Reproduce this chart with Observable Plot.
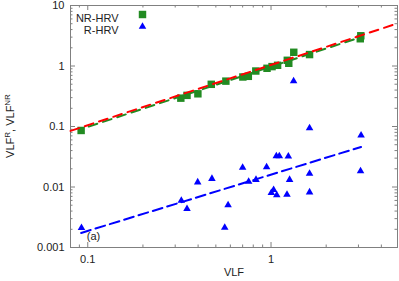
<!DOCTYPE html>
<html><head><meta charset="utf-8">
<script src="https://cdn.jsdelivr.net/npm/d3@7"></script>
<script src="https://cdn.jsdelivr.net/npm/@observablehq/plot@0.6"></script>
<style>body{margin:0;background:#fff}</style>
</head><body><div id="chart"></div>
<script>
// NR-HRV (green squares)
const nrX = [0.092, 0.322, 0.348, 0.399, 0.472, 0.567, 0.702, 0.752, 0.826, 0.951, 1.013, 1.086, 1.227, 1.250, 1.331, 1.623, 3.09, 3.07];
const nrY = [0.086, 0.294, 0.327, 0.347, 0.498, 0.562, 0.658, 0.675, 0.826, 0.916, 0.977, 1.027, 1.242, 1.108, 1.686, 1.545, 3.16, 2.82];
// R-HRV (blue triangles)
const rX = [0.0924, 0.324, 0.348, 0.398, 0.476, 0.583, 0.559, 0.700, 0.755, 0.828, 0.946, 1.069, 1.110, 1.243, 1.004, 1.033, 1.075, 1.222, 1.263, 1.623, 1.623, 3.08, 1.328, 1.623, 3.10];
const rY = [0.00211, 0.00598, 0.00436, 0.0120, 0.0137, 0.00504, 0.00213, 0.0210, 0.0123, 0.0132, 0.0213, 0.0324, 0.0324, 0.0320, 0.00802, 0.0090, 0.00738, 0.00751, 0.0132, 0.0166, 0.0082, 0.0183, 0.565, 0.0942, 0.0713];
// fit lines (end points)
const redFitX = [0.0805, 4.9], redFitY = [0.0846, 5.06];
const greenFitX = [0.092, 3.1], greenFitY = [0.0906, 3.009];
const blueFitX = [0.092, 3.1], blueFitY = [0.00174, 0.0459];
// ticks
const xTickValues = [0.1, 1], xTickLabels = ["0.1", "1"];
const yTickValues = [0.001, 0.01, 0.1, 1, 10], yTickLabels = ["0.001", "0.01", "0.1", "1", "10"];
const xMinor = [0.09, 0.2, 0.3, 0.4, 0.5, 0.6, 0.7, 0.8, 0.9, 2, 3, 4];
const yMinor = [0.002,0.003,0.004,0.005,0.006,0.007,0.008,0.009,
                0.02,0.03,0.04,0.05,0.06,0.07,0.08,0.09,
                0.2,0.3,0.4,0.5,0.6,0.7,0.8,0.9,
                2,3,4,5,6,7,8,9];
const seriesNames = ["NR-HRV", "R-HRV"];

const GREEN = "#228b22", BLUE = "#0000ff", RED = "#ff0000", AXIS = "#808080";
const W = 399, H = 281, mL = 70, mR = 2, mT = 5, mB = 34;
const iH = H - mT - mB, iW = W - mL - mR;

const nr = nrX.map((x, i) => ({x, y: nrY[i]}));
const rr = rX.map((x, i) => ({x, y: rY[i]}));
const line = (xs, ys) => xs.map((x, i) => ({x, y: ys[i]}));
const xLab = new Map(xTickValues.map((v, i) => [v, xTickLabels[i]]));
const yLab = new Map(yTickValues.map((v, i) => [v, yTickLabels[i]]));

const chart = Plot.plot({
  width: W, height: H,
  marginLeft: mL, marginRight: mR, marginTop: mT, marginBottom: mB,
  style: {fontFamily: "'Liberation Sans', Arial, sans-serif", fontSize: "11px", color: "#222", background: "#fff"},
  x: {type: "log", domain: [0.0805, 4.9]},
  y: {type: "log", domain: [0.001, 10]},
  marks: [
    Plot.axisX({ticks: xTickValues, tickFormat: d => xLab.get(d), tickSize: 0, tickPadding: 8, label: null}),
    Plot.axisY({ticks: yTickValues, tickFormat: d => yLab.get(d), tickSize: 0, tickPadding: 6, label: null}),
    // inward ticks on all four sides
    Plot.tickX(xTickValues, {x: d => d, insetTop: iH - 5, stroke: AXIS}),
    Plot.tickX(xTickValues, {x: d => d, insetBottom: iH - 5, stroke: AXIS}),
    Plot.tickX(xMinor, {x: d => d, insetTop: iH - 2.5, stroke: AXIS}),
    Plot.tickX(xMinor, {x: d => d, insetBottom: iH - 2.5, stroke: AXIS}),
    Plot.tickY(yTickValues, {y: d => d, insetRight: iW - 5, stroke: AXIS}),
    Plot.tickY(yTickValues, {y: d => d, insetLeft: iW - 5, stroke: AXIS}),
    Plot.tickY(yMinor, {y: d => d, insetRight: iW - 2.5, stroke: AXIS}),
    Plot.tickY(yMinor, {y: d => d, insetLeft: iW - 2.5, stroke: AXIS}),
    Plot.frame({stroke: AXIS}),
    // data
    Plot.dot(nr, {x: "x", y: "y", symbol: "square", r: 4.2, fill: GREEN, stroke: null}),
    Plot.dot(rr, {x: "x", y: "y", symbol: "triangle", r: 2.8, fill: BLUE, stroke: null}),
    Plot.line(line(greenFitX, greenFitY), {x: "x", y: "y", stroke: GREEN, strokeWidth: 2, strokeDasharray: "9,6", strokeDashoffset: 7}),
    Plot.line(line(redFitX, redFitY), {x: "x", y: "y", stroke: RED, strokeWidth: 2, strokeDasharray: "9,6"}),
    Plot.line(line(blueFitX, blueFitY), {x: "x", y: "y", stroke: BLUE, strokeWidth: 2, strokeDasharray: "10,5"}),
    // legend
    Plot.text([seriesNames[0]], {text: d => d, frameAnchor: "top-left", dx: 48, dy: 9, textAnchor: "end", fill: "#222"}),
    Plot.text([seriesNames[1]], {text: d => d, frameAnchor: "top-left", dx: 48, dy: 21, textAnchor: "end", fill: "#222"}),
    Plot.dot([0], {frameAnchor: "top-left", dx: 72, dy: 9, symbol: "square", r: 4.2, fill: GREEN, stroke: null}),
    Plot.dot([0], {frameAnchor: "top-left", dx: 72, dy: 21, symbol: "triangle", r: 2.8, fill: BLUE, stroke: null}),
    // annotation
    Plot.text(["(a)"], {text: d => d, x: 0.1, y: 0.00151, textAnchor: "start", dx: -1, fill: "#222"}),
    // x title
    Plot.text(["VLF"], {text: d => d, frameAnchor: "bottom", dy: 28, fill: "#222"})
  ]
});
document.getElementById("chart").appendChild(chart);

// y title with superscripts
const svg = d3.select(chart);
const t = svg.append("text")
  .attr("transform", `translate(13.5,${mT + iH / 2}) rotate(-90)`)
  .attr("text-anchor", "middle")
  .attr("fill", "#222")
  .attr("font-family", "'Liberation Sans', Arial, sans-serif")
  .attr("font-size", 11);
t.append("tspan").text("VLF");
t.append("tspan").attr("dy", -4).attr("font-size", 8).text("R");
t.append("tspan").attr("dy", 4).text(", VLF");
t.append("tspan").attr("dy", -4).attr("font-size", 8).text("NR");
</script>
</body></html>
